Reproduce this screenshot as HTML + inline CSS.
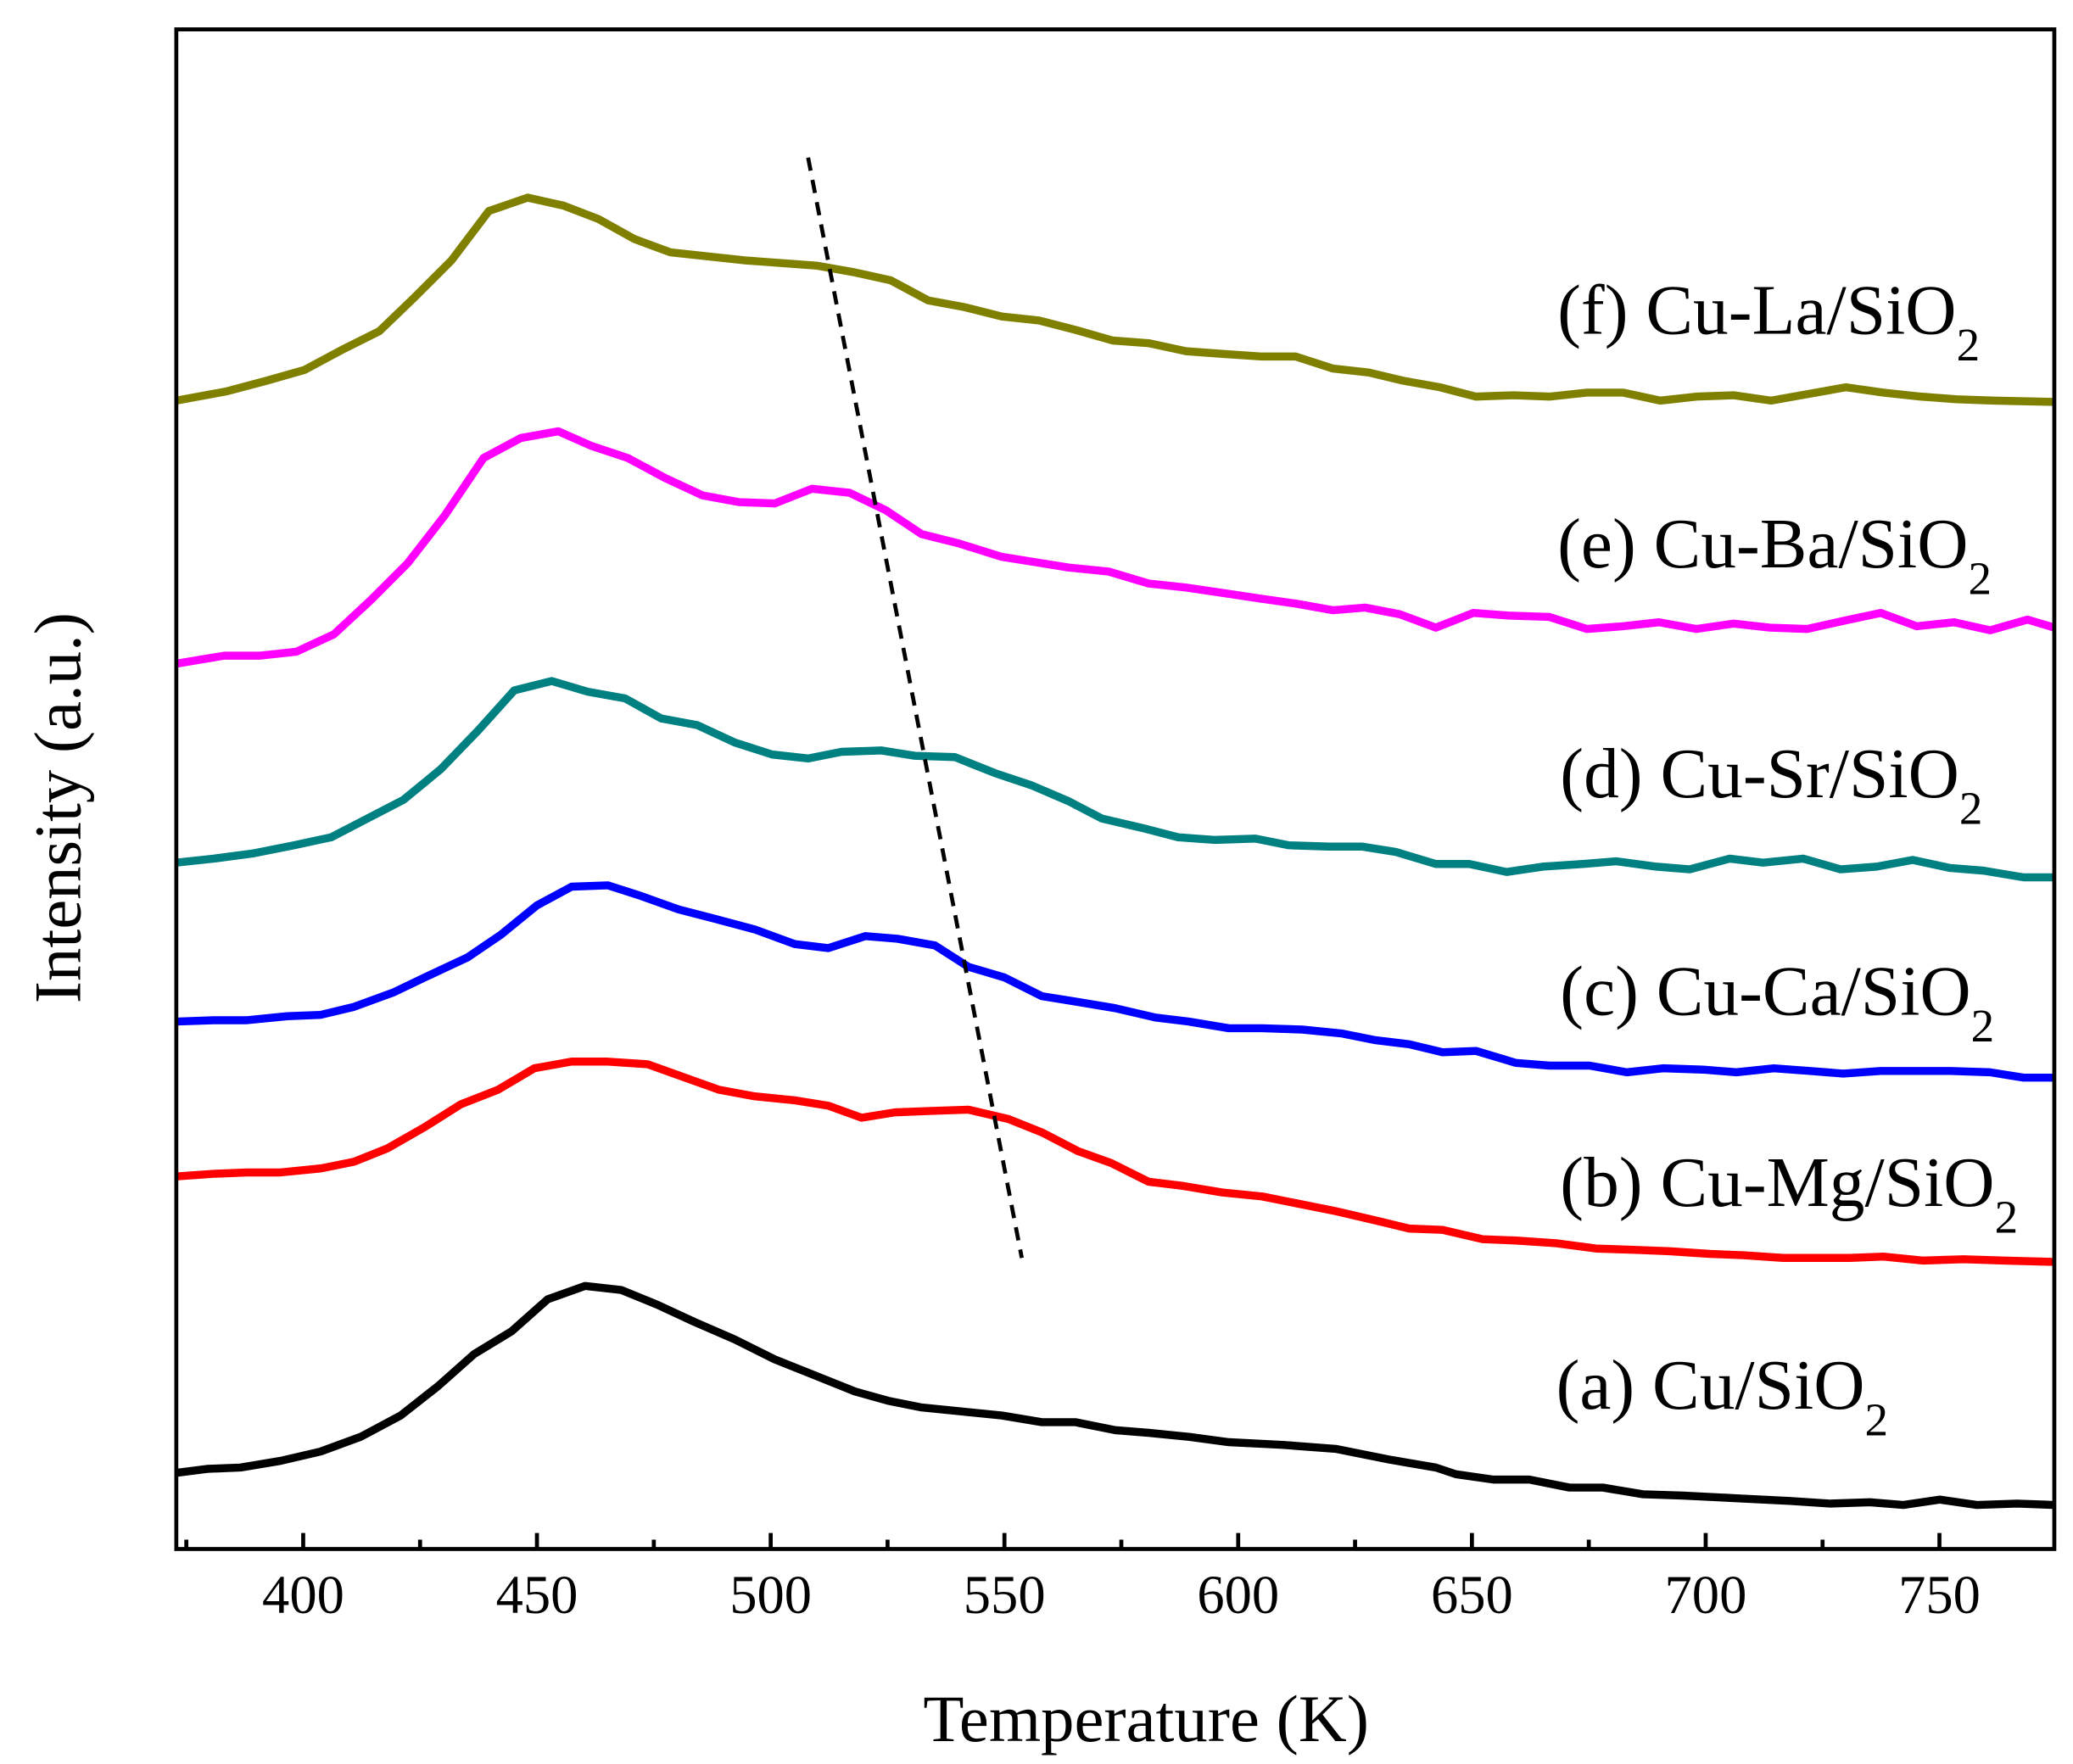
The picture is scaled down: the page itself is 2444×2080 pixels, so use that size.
<!DOCTYPE html>
<html><head><meta charset="utf-8"><style>html,body{margin:0;padding:0;background:#fff}svg{display:block}</style></head>
<body>
<svg width="2444" height="2080" viewBox="0 0 1552 1321" preserveAspectRatio="none" xmlns="http://www.w3.org/2000/svg" font-family="Liberation Serif, serif">
<rect x="0" y="0" width="1552" height="1321" fill="#fff"/>
<g fill="none" stroke-width="6" stroke-linejoin="round">
<polyline stroke="#000" points="132,1103 155,1100 180,1099 210,1094 240,1087 270,1076 300,1060 328,1038 355,1014 383,997 410,973 438,963 465,966 492,977 520,990 550,1003 580,1018 610,1030 640,1042 665,1049 690,1054 720,1057 750,1060 780,1065 805,1065 835,1071 860,1073 890,1076 920,1080 960,1082 1000,1085 1040,1093 1075,1099 1090,1104 1118,1108 1145,1108 1175,1114 1200,1114 1230,1119 1260,1120 1300,1122 1340,1124 1370,1126 1400,1125 1425,1127 1452,1123 1480,1127 1510,1126 1538,1127"/>
<polyline stroke="#ff0000" points="132,881 160,879 185,878 210,878 240,875 265,870 290,860 318,844 345,827 373,816 400,800 428,795 455,795 485,797 510,806 538,816 565,821 595,824 620,828 645,837 670,833 695,832 725,831 755,838 780,848 807,862 832,871 860,885 885,888 915,893 945,896 970,901 1000,907 1030,914 1055,920 1080,921 1110,928 1135,929 1165,931 1195,935 1225,936 1250,937 1280,939 1305,940 1335,942 1360,942 1385,942 1410,941 1440,944 1470,943 1500,944 1538,945"/>
<polyline stroke="#0000ff" points="132,765 160,764 185,764 215,761 240,760 265,754 295,743 320,731 350,717 375,700 402,678 428,664 455,663 480,671 508,681 535,688 565,696 595,707 620,710 648,701 672,703 700,708 725,724 752,732 780,746 805,750 835,755 865,762 890,765 920,770 945,770 975,771 1005,774 1030,779 1055,782 1080,788 1105,787 1135,796 1160,798 1190,798 1218,803 1245,800 1275,801 1300,803 1328,800 1355,802 1380,804 1408,802 1435,802 1460,802 1490,803 1515,807 1538,807"/>
<polyline stroke="#008080" points="132,646 160,643 190,639 220,633 248,627 275,613 302,599 330,576 358,547 385,517 413,510 440,518 468,523 495,538 522,543 550,556 578,565 605,568 630,563 660,562 685,566 715,567 745,579 772,588 800,600 825,613 855,620 882,627 910,629 940,628 965,633 995,634 1020,634 1045,638 1075,647 1100,647 1128,653 1155,649 1185,647 1210,645 1240,649 1265,651 1295,643 1320,646 1350,643 1378,651 1405,649 1432,644 1460,650 1485,652 1515,657 1538,657"/>
<polyline stroke="#ff00ff" points="132,497 168,491 195,491 222,488 250,475 278,449 305,422 333,386 362,343 390,328 418,323 443,334 470,343 498,358 526,371 553,376 580,377 608,366 636,369 663,382 690,400 718,407 750,417 775,421 800,425 830,428 860,437 888,440 915,444 942,448 970,452 998,457 1022,455 1048,460 1075,470 1103,459 1130,461 1160,462 1188,471 1215,469 1242,466 1270,471 1298,467 1325,470 1353,471 1380,465 1408,459 1435,469 1463,466 1490,472 1518,464 1538,470"/>
<polyline stroke="#808000" points="132,300 170,293 200,285 228,277 256,262 284,248 310,223 338,195 366,158 395,148 422,154 448,164 475,179 502,189 530,192 558,195 585,197 612,199 640,204 667,210 695,225 722,230 750,237 778,240 805,247 833,255 860,257 888,263 915,265 945,267 970,267 998,276 1025,279 1050,285 1078,290 1105,297 1133,296 1160,297 1188,294 1215,294 1243,300 1270,297 1298,296 1326,300 1354,295 1382,290 1410,294 1438,297 1465,299 1493,300 1538,301"/>
</g>
<line x1="605" y1="118" x2="765" y2="942" stroke="#000" stroke-width="3" stroke-dasharray="10,7"/>
<rect x="132" y="22" width="1406" height="1138" fill="none" stroke="#000" stroke-width="3"/>
<g stroke="#000" stroke-width="3">
<line x1="227" y1="1160" x2="227" y2="1148"/><line x1="402" y1="1160" x2="402" y2="1148"/><line x1="577" y1="1160" x2="577" y2="1148"/><line x1="752" y1="1160" x2="752" y2="1148"/><line x1="927" y1="1160" x2="927" y2="1148"/><line x1="1102" y1="1160" x2="1102" y2="1148"/><line x1="1277" y1="1160" x2="1277" y2="1148"/><line x1="1452" y1="1160" x2="1452" y2="1148"/>
<line x1="139.5" y1="1160" x2="139.5" y2="1153"/><line x1="314.5" y1="1160" x2="314.5" y2="1153"/><line x1="489.5" y1="1160" x2="489.5" y2="1153"/><line x1="664.5" y1="1160" x2="664.5" y2="1153"/><line x1="839.5" y1="1160" x2="839.5" y2="1153"/><line x1="1014.5" y1="1160" x2="1014.5" y2="1153"/><line x1="1189.5" y1="1160" x2="1189.5" y2="1153"/><line x1="1364.5" y1="1160" x2="1364.5" y2="1153"/>
</g>
<g font-size="41" text-anchor="middle" fill="#000">
<text x="227" y="1208">400</text><text x="402" y="1208">450</text><text x="577" y="1208">500</text><text x="752" y="1208">550</text><text x="927" y="1208">600</text><text x="1102" y="1208">650</text><text x="1277" y="1208">700</text><text x="1452" y="1208">750</text>
</g>
<text x="858" y="1304" font-size="50" text-anchor="middle">Temperature (K)</text>
<text transform="translate(60,605) rotate(-90)" font-size="50" text-anchor="middle">Intensity (a.u.)</text>
<g font-size="53" fill="#000">
<text x="1166" y="250">(f) Cu-La/SiO<tspan font-size="35" dy="20">2</tspan></text>
<text x="1166" y="425">(e) Cu-Ba/SiO<tspan font-size="35" dy="20">2</tspan></text>
<text x="1168" y="597">(d) Cu-Sr/SiO<tspan font-size="35" dy="20">2</tspan></text>
<text x="1168" y="760">(c) Cu-Ca/SiO<tspan font-size="35" dy="20">2</tspan></text>
<text x="1168" y="903">(b) Cu-Mg/SiO<tspan font-size="35" dy="20">2</tspan></text>
<text x="1165" y="1055">(a) Cu/SiO<tspan font-size="35" dy="20">2</tspan></text>
</g>
</svg>
</body></html>
